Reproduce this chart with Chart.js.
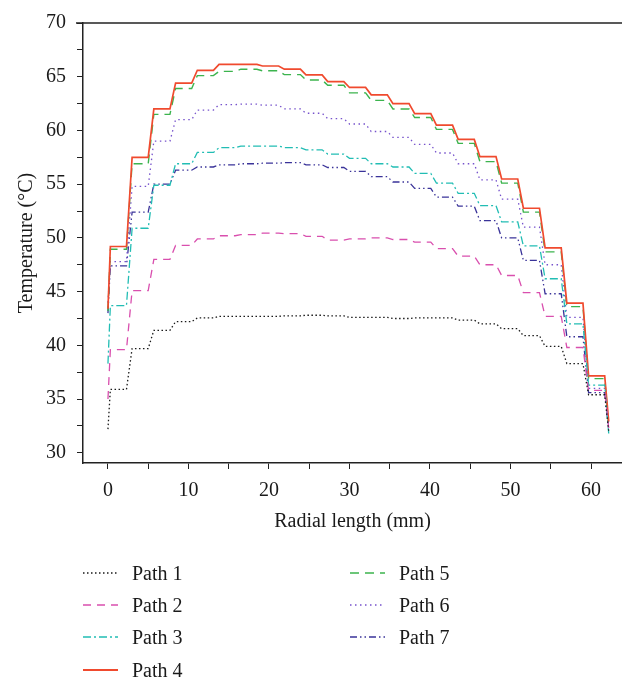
<!DOCTYPE html>
<html>
<head>
<meta charset="utf-8">
<script src="https://cdn.jsdelivr.net/npm/chart.js@4.4.0/dist/chart.umd.min.js"></script>
<style>
html, body { margin: 0; padding: 0; background: #fff; }
#wrap { position: relative; width: 622px; height: 682px; overflow: hidden; }
#box { position: absolute; left: 0; top: 0; width: 622px; height: 545px; }
#legend { position: absolute; left: 0; top: 0; width: 622px; height: 682px; font-family: 'Liberation Serif', 'DejaVu Serif', serif; font-size: 20px; color: #1a1a1a; pointer-events: none; }
.item { position: absolute; height: 24px; display: flex; align-items: center; white-space: nowrap; }
.item svg { margin-right: 14px; }
</style>
</head>
<body>
<div id="wrap">
  <div id="box"><canvas id="chart"></canvas></div>
  <div id="legend"></div>
</div>
<script>
// step plateaus along the radius (mm): start and end of each flat piece
const plateauStart = [0.3, 3.0, 5.7, 8.4, 11.1, 13.8, 16.5, 19.2, 21.9, 24.6, 27.3, 30.0, 32.7, 35.4, 38.1, 40.8, 43.5, 46.2, 48.9, 51.6, 54.3, 57.0, 59.7];
const plateauEnd   = [2.3, 5.0, 7.7, 10.4, 13.1, 15.8, 18.5, 21.2, 23.9, 26.6, 29.3, 32.0, 34.7, 37.4, 40.1, 42.8, 45.5, 48.2, 50.9, 53.6, 56.3, 59.0, 61.7];
const firstX = 0;
const lastX = 62.2;

const seriesNames = ['Path 1', 'Path 2', 'Path 3', 'Path 4', 'Path 5', 'Path 6', 'Path 7'];
const startTemps = [32.2, 35.0, 38.3, 43.4, 43.2, 44.0, 43.0];
const endTemps   = [32.0, 32.3, 31.8, 32.9, 32.4, 32.4, 32.2];

const path1 = [35.9, 39.7, 41.4, 42.2, 42.55, 42.7, 42.7, 42.7, 42.75, 42.8, 42.75, 42.6, 42.6, 42.5, 42.55, 42.55, 42.35, 42.0, 41.55, 40.9, 39.9, 38.3, 35.4];
const path2 = [39.6, 45.1, 48.0, 49.3, 49.9, 50.2, 50.3, 50.45, 50.4, 50.15, 49.8, 49.9, 50.0, 49.85, 49.6, 49.0, 48.3, 47.5, 46.5, 44.9, 42.7, 39.8, 35.8];
const path3 = [43.7, 50.9, 54.9, 56.9, 57.95, 58.4, 58.55, 58.55, 58.4, 58.2, 57.8, 57.4, 56.9, 56.6, 56.0, 55.1, 54.15, 53.0, 51.5, 49.25, 46.2, 42.0, 36.3];
const path4 = [49.2, 57.5, 62.0, 64.4, 65.6, 66.15, 66.15, 66.0, 65.7, 65.17, 64.55, 64.0, 63.32, 62.49, 61.57, 60.49, 59.17, 57.56, 55.48, 52.76, 49.07, 43.93, 37.16];
const path5 = [48.95, 56.9, 61.5, 63.9, 65.1, 65.5, 65.7, 65.55, 65.2, 64.7, 64.2, 63.5, 62.8, 62.0, 61.2, 60.1, 58.8, 57.1, 55.1, 52.4, 48.7, 43.6, 36.9];
const path6 = [47.8, 54.8, 59.0, 61.0, 61.9, 62.4, 62.45, 62.35, 62.0, 61.6, 61.1, 60.6, 59.9, 59.35, 58.7, 57.9, 56.9, 55.4, 53.6, 51.0, 47.5, 42.6, 36.0];
const path7 = [47.4, 52.4, 55.0, 56.3, 56.6, 56.8, 56.9, 56.95, 57.0, 56.8, 56.55, 56.2, 55.7, 55.2, 54.6, 53.8, 52.95, 51.6, 50.0, 47.9, 44.8, 40.8, 35.6];

const xTicks = [0, 5, 10, 15, 20, 25, 30, 35, 40, 45, 50, 55, 60];
const yTicks = [30, 32.5, 35, 37.5, 40, 42.5, 45, 47.5, 50, 52.5, 55, 57.5, 60, 62.5, 65, 67.5, 70];

const plateaus = [path1, path2, path3, path4, path5, path6, path7];
const colors = ['#1a1a1a', '#d94fae', '#22bdb4', '#f04a2e', '#3cb44e', '#7652cc', '#3a3399'];
const dashes = [[1.5, 2.5], [8, 6], [8, 3, 2, 3], [], [9, 6], [1.5, 3.5], [7, 3, 1.5, 3, 1.5, 3]];
const widths = [1.3, 1.3, 1.3, 1.7, 1.4, 1.3, 1.3];

function stepPoints(i) {
  const pts = [{x: firstX, y: startTemps[i]}];
  plateaus[i].forEach((v, k) => {
    pts.push({x: plateauStart[k], y: v});
    pts.push({x: plateauEnd[k], y: v});
  });
  pts.push({x: lastX, y: endTemps[i]});
  return pts;
}

const datasets = seriesNames.map((name, i) => ({
  label: name,
  data: stepPoints(i),
  borderColor: colors[i],
  backgroundColor: colors[i],
  borderDash: dashes[i],
  borderWidth: widths[i],
  pointRadius: 0,
  tension: 0,
  fill: false
}));

const fontFam = "'Liberation Serif', 'DejaVu Serif', serif";

const topBorder = {
  id: 'topBorder',
  afterDraw(chart) {
    const {ctx, chartArea} = chart;
    ctx.save();
    ctx.strokeStyle = '#222';
    ctx.lineWidth = 1.5;
    ctx.beginPath();
    ctx.moveTo(chartArea.left - 7, chartArea.top);
    ctx.lineTo(chartArea.right, chartArea.top);
    ctx.stroke();
    ctx.restore();
  }
};

const chart = new Chart(document.getElementById('chart'), {
  type: 'line',
  data: { datasets: datasets },
  options: {
    responsive: true,
    maintainAspectRatio: false,
    animation: false,
    layout: { padding: { top: 21, right: 0, left: 0, bottom: 0 } },
    plugins: { legend: { display: false }, tooltip: { enabled: false } },
    scales: {
      x: {
        type: 'linear',
        min: -3.1,
        max: 63.85,
        afterBuildTicks: s => { s.ticks = xTicks.map(v => ({value: v})); },
        afterFit: s => { s.height = 82; },
        border: { color: '#222', width: 1.5 },
        grid: { drawOnChartArea: false, drawTicks: true, tickLength: 6, color: '#222', lineWidth: 1 },
        ticks: {
          color: '#1a1a1a',
          padding: 10,
          maxRotation: 0,
          font: { family: fontFam, size: 20 },
          callback: v => (v % 10 === 0 ? v : '')
        },
        title: {
          display: true,
          text: 'Radial length (mm)',
          color: '#1a1a1a',
          font: { family: fontFam, size: 20 },
          padding: { top: 0, bottom: 11 }
        }
      },
      y: {
        min: 29.05,
        max: 70,
        afterBuildTicks: s => { s.ticks = yTicks.map(v => ({value: v})); },
        afterFit: s => { s.width = 83; },
        border: { color: '#222', width: 1.5 },
        grid: { drawOnChartArea: false, drawTicks: true, tickLength: 6, color: '#222', lineWidth: 1 },
        ticks: {
          color: '#1a1a1a',
          padding: 11,
          font: { family: fontFam, size: 20 },
          callback: v => (v % 5 === 0 ? v : '')
        },
        title: {
          display: true,
          text: 'Temperature (°C)',
          color: '#1a1a1a',
          font: { family: fontFam, size: 20 },
          padding: { top: 15, bottom: 0 }
        }
      }
    }
  },
  plugins: [topBorder]
});

// legend: two columns, drawn from the datasets
const legendCols = [{line: 83, rows: [0, 1, 2, 3]}, {line: 350, rows: [4, 5, 6]}];
const rowY = [573, 605, 637, 670];
const legend = document.getElementById('legend');
legendCols.forEach(col => {
  col.rows.forEach((di, r) => {
    const ds = datasets[di];
    const item = document.createElement('div');
    item.className = 'item';
    item.style.left = col.line + 'px';
    item.style.top = (rowY[r] - 12) + 'px';
    const dash = ds.borderDash.length ? ds.borderDash.join(' ') : 'none';
    item.innerHTML = '<svg width="35" height="6"><line x1="0" y1="3" x2="35" y2="3" stroke="' + ds.borderColor +
      '" stroke-width="' + (ds.borderWidth + 0.3) + '" stroke-dasharray="' + dash + '"/></svg><span>' + ds.label + '</span>';
    legend.appendChild(item);
  });
});
</script>
</body>
</html>
